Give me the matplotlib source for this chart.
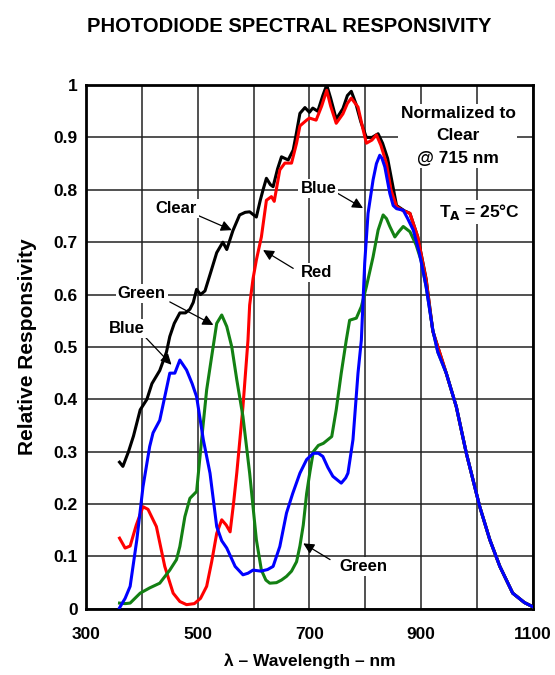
import matplotlib
matplotlib.use("Agg")
import matplotlib.pyplot as plt

plt.rcParams["font.family"] = ["Liberation Sans", "DejaVu Sans"]
plt.rcParams["font.weight"] = "bold"
plt.rcParams["axes.labelweight"] = "bold"

# wavelength (nm) / relative responsivity
clear_nm = [360, 366, 376, 385, 397, 409, 418, 432, 444, 450, 458, 468, 478, 486, 492,
            498, 505, 513, 524, 534, 545, 552, 563, 575, 585, 593, 605, 612, 617, 623,
            630, 635, 643, 650, 662, 671, 677, 683, 692, 700, 706, 715, 724, 731, 738,
            748, 760, 768, 775, 783, 792, 802, 812, 823, 831, 840, 856, 870, 880, 894,
            909, 921, 930, 945, 963, 981, 1005, 1023, 1041, 1064, 1085, 1100]
clear_val = [0.28, 0.272, 0.30, 0.33, 0.38, 0.40, 0.43, 0.455, 0.49, 0.52, 0.545, 0.565,
             0.565, 0.572, 0.585, 0.61, 0.60, 0.607, 0.645, 0.68, 0.70, 0.686, 0.722,
             0.752, 0.757, 0.758, 0.748, 0.78, 0.80, 0.822, 0.81, 0.806, 0.84, 0.863,
             0.857, 0.876, 0.91, 0.946, 0.957, 0.948, 0.956, 0.95, 0.98, 1.0, 0.975,
             0.935, 0.955, 0.98, 0.988, 0.965, 0.93, 0.90, 0.90, 0.907, 0.889, 0.86,
             0.77, 0.76, 0.755, 0.71, 0.63, 0.53, 0.50, 0.45, 0.386, 0.297, 0.195,
             0.132, 0.081, 0.03, 0.012, 0.004]

red_nm = [360, 370, 379, 390, 402, 411, 426, 441, 456, 468, 480, 494, 505, 516, 525,
          534, 543, 551, 558, 564, 570, 581, 590, 593, 599, 605, 614, 623, 632, 637,
          647, 656, 668, 677, 683, 695, 700, 712, 722, 731, 738, 748, 760, 768, 775,
          787, 795, 802, 812, 820, 828, 838, 846, 856, 868, 880, 894, 909, 921, 930,
          945, 963, 981, 1005, 1023, 1041, 1064, 1085, 1100]
red_val = [0.135, 0.116, 0.12, 0.16, 0.195, 0.19, 0.157, 0.081, 0.03, 0.014, 0.008, 0.01,
           0.02, 0.043, 0.09, 0.144, 0.17, 0.16, 0.147, 0.20, 0.26, 0.386, 0.513, 0.58,
           0.63, 0.666, 0.71, 0.78, 0.787, 0.778, 0.838, 0.851, 0.851, 0.889, 0.922,
           0.933, 0.937, 0.933, 0.96, 0.99, 0.96, 0.927, 0.945, 0.965, 0.975, 0.958,
           0.92, 0.889, 0.895, 0.905, 0.885, 0.85, 0.80, 0.768, 0.76, 0.755, 0.71, 0.628,
           0.53, 0.50, 0.45, 0.386, 0.297, 0.195, 0.132, 0.081, 0.03, 0.012, 0.004]

green_nm = [360, 370, 379, 397, 414, 432, 450, 462, 468, 477, 486, 498, 507, 516, 525,
            534, 543, 552, 561, 570, 581, 593, 605, 614, 622, 629, 641, 650, 659, 668,
            677, 683, 689, 695, 701, 707, 716, 725, 740, 748, 757, 766, 772, 784, 793,
            802, 814, 823, 832, 838, 844, 853, 860, 868, 880, 891, 900, 909, 921, 930,
            945, 963, 981, 1005, 1023, 1041, 1064, 1085, 1100]
green_val = [0.011, 0.01, 0.011, 0.03, 0.04, 0.049, 0.074, 0.094, 0.119, 0.176, 0.211,
             0.224, 0.323, 0.418, 0.482, 0.545, 0.561, 0.539, 0.50, 0.437, 0.367, 0.259,
             0.132, 0.074, 0.055, 0.049, 0.05, 0.055, 0.062, 0.072, 0.09, 0.12, 0.16,
             0.22, 0.262, 0.30, 0.312, 0.316, 0.329, 0.38, 0.45, 0.513, 0.551, 0.555,
             0.577, 0.615, 0.672, 0.723, 0.752, 0.745, 0.73, 0.71, 0.72, 0.73, 0.72, 0.695,
             0.665, 0.615, 0.532, 0.49, 0.45, 0.386, 0.297, 0.195, 0.132, 0.081, 0.03,
             0.012, 0.004]

blue_nm = [360, 370, 379, 391, 402, 414, 420, 432, 441, 450, 459, 468, 480, 490, 498,
           510, 522, 534, 543, 552, 567, 581, 590, 599, 613, 625, 635, 647, 659, 670,
           683, 695, 707, 716, 724, 733, 742, 757, 765, 769, 778, 787, 793, 799, 805,
           814, 820, 826, 830, 835, 844, 850, 856, 868, 876, 886, 897, 909, 921, 930,
           945, 963, 981, 1005, 1023, 1041, 1064, 1085, 1100]
blue_val = [0.002, 0.02, 0.043, 0.132, 0.233, 0.31, 0.336, 0.36, 0.405, 0.45, 0.45, 0.475,
            0.456, 0.43, 0.405, 0.323, 0.259, 0.157, 0.13, 0.116, 0.081, 0.065, 0.068,
            0.074, 0.072, 0.075, 0.081, 0.119, 0.183, 0.22, 0.259, 0.285, 0.297, 0.297,
            0.291, 0.27, 0.253, 0.24, 0.25, 0.259, 0.323, 0.45, 0.513, 0.66, 0.755, 0.819,
            0.85, 0.866, 0.86, 0.844, 0.793, 0.77, 0.764, 0.761, 0.745, 0.723, 0.679,
            0.615, 0.532, 0.49, 0.45, 0.386, 0.297, 0.195, 0.132, 0.081, 0.03, 0.012,
            0.004]

x_grid = [300, 400, 500, 600, 700, 800, 900, 1000, 1100]
x_ticklabels = ["300", "", "500", "", "700", "", "900", "", "1100"]
y_ticks = [0, 0.1, 0.2, 0.3, 0.4, 0.5, 0.6, 0.7, 0.8, 0.9, 1]
y_ticklabels = ["0", "0.1", "0.2", "0.3", "0.4", "0.5", "0.6", "0.7", "0.8", "0.9", "1"]

fig = plt.figure(figsize=(5.55, 6.75), dpi=100)
ax = fig.add_axes([0.155, 0.098, 0.805, 0.776])

ax.plot(clear_nm, clear_val, color="black", lw=2.2, zorder=3)
ax.plot(red_nm, red_val, color="#ff0000", lw=2.2, zorder=3)
ax.plot(green_nm, green_val, color="#138013", lw=2.2, zorder=3)
ax.plot(blue_nm, blue_val, color="#0000ff", lw=2.2, zorder=3)

ax.set_xlim(300, 1100)
ax.set_ylim(0, 1)
ax.set_xticks(x_grid)
ax.set_xticklabels(x_ticklabels)
ax.set_yticks(y_ticks)
ax.set_yticklabels(y_ticklabels)
ax.tick_params(length=0, labelsize=12.5)
ax.tick_params(axis="x", pad=13)
ax.tick_params(axis="y", pad=6)
ax.grid(True, color="#222222", lw=1.1)
ax.set_axisbelow(True)
for s in ax.spines.values():
    s.set_linewidth(2)

ax.set_xlabel("λ – Wavelength – nm", fontsize=12.5, labelpad=8)
ax.set_ylabel("Relative Responsivity", fontsize=15, labelpad=12)
fig.text(0.521, 0.961, "PHOTODIODE SPECTRAL RESPONSIVITY", ha="center", va="center",
         fontsize=14.5, fontweight="bold")

box = dict(facecolor="white", edgecolor="none", pad=1.5)
arrow = dict(arrowstyle="-|>", color="black", lw=0.9, mutation_scale=16,
             shrinkA=0, shrinkB=0)
labels = [("Clear", (462, 0.765), (492, 0.755), (561, 0.723)),
          ("Red", (712, 0.642), (671, 0.65), (617, 0.685)),
          ("Blue", (716, 0.803), (751, 0.793), (796, 0.765)),
          ("Green", (400, 0.602), (450, 0.586), (528, 0.542)),
          ("Blue", (373, 0.536), (405, 0.52), (453, 0.466)),
          ("Green", (796, 0.081), (737, 0.094), (689, 0.125))]
for txt, pos, start, tip in labels:
    ax.annotate("", xy=tip, xytext=start, arrowprops=arrow, zorder=4)
    ax.text(*pos, txt, ha="center", va="center", fontsize=12, bbox=box, zorder=5)

ax.text(966, 0.903, "Normalized to\nClear\n@ 715 nm", ha="center", va="center",
        fontsize=12.5, linespacing=1.6, bbox=box, zorder=5)
ax.text(1005, 0.757, r"T$_\mathbf{A}$ = 25°C", ha="center", va="center",
        fontsize=12.5, bbox=box, zorder=5)

fig.savefig("out.png", dpi=100)
